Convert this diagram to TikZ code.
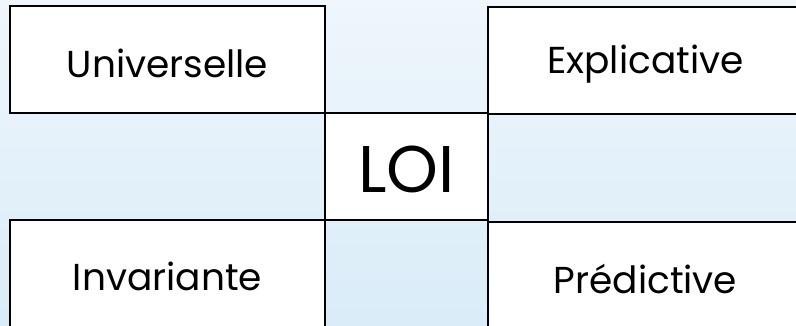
\documentclass[tikz,border=0pt]{standalone}
\usepackage{fontspec}
\setmainfont{Poppins}
\definecolor{bgtop}{HTML}{EFF6FC}
\definecolor{bgbot}{HTML}{D9ECF8}
\begin{document}
\begin{tikzpicture}[x=1pt,y=-1pt,
  cellbox/.style={draw=black, line width=2.6pt, fill=white, inner sep=0pt,
    minimum width=315pt, minimum height=107pt},
  centrebox/.style={draw=black, line width=2.6pt, fill=white, inner sep=0pt,
    minimum width=163pt, minimum height=107pt},
  celltext/.style={inner sep=0pt, font=\fontsize{37.5}{42}\selectfont},
  loitext/.style={inner sep=0pt, font=\fontsize{66}{72}\selectfont}]
\useasboundingbox (0,0) rectangle (796,325);
\clip (0,0) rectangle (796,325);
\shade[top color=bgtop, bottom color=bgbot] (0,0) rectangle (796,325);
\node[cellbox] (univ) at (167.5,59.5) {};
\node[cellbox] (expl) at (645.5,60.5) {};
\node[centrebox] (loi) at (406.5,166.5) {};
\node[cellbox] (inv) at (167.5,273.5) {};
\node[cellbox] (pred) at (645.5,275.5) {};
\node[celltext] (univT) at ([yshift=-4pt]univ.center) {Universelle};
\node[celltext] (explT) at ([yshift=-4pt]expl.center) {Explicative};
\node[loitext] (loiT) at ([yshift=-3pt]loi.center) {LOI};
\node[celltext] (invT) at ([yshift=-3pt]inv.center) {Invariante};
\node[celltext] (predT) at ([yshift=-3pt]pred.center) {Prédictive};
\end{tikzpicture}
\end{document}
